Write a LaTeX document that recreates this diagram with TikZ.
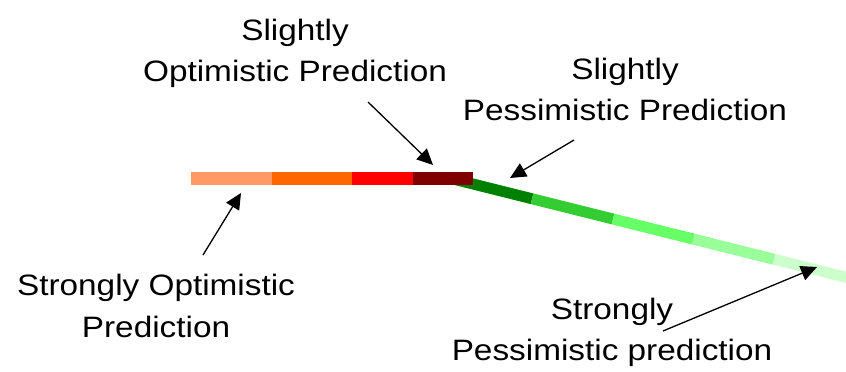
\documentclass[tikz,border=0pt]{standalone}
\usepackage{fontspec}
\setmainfont{Liberation Sans}[FakeStretch=1.13]
\usepackage{xcolor}
\usetikzlibrary{arrows.meta}

\definecolor{optA}{HTML}{FF9966}
\definecolor{optB}{HTML}{FF6600}
\definecolor{optC}{HTML}{FF0000}
\definecolor{optD}{HTML}{800000}
\definecolor{pesA}{HTML}{008000}
\definecolor{pesB}{HTML}{33CC33}
\definecolor{pesC}{HTML}{66FF66}
\definecolor{pesD}{HTML}{99FF99}
\definecolor{pesE}{HTML}{CCFFCC}

\begin{document}
\begin{tikzpicture}[x=1pt,y=-1pt,
  lbl/.style={align=center, anchor=base, inner sep=0pt, font={\fontsize{29.5pt}{41.5pt}\selectfont}},
  seg/.style={line width=11pt, line cap=butt},
  ptr/.style={-{Triangle[length=16pt,width=15pt]}, line width=1.3pt},
]
\useasboundingbox (0,0) rectangle (846,372);
% pessimistic side (slanted, under the bar)
\draw[seg, pesA] (451,178.5) -- (532,198.75);
\draw[seg, pesB] (532,198.75) -- (613,219);
\draw[seg, pesC] (613,219) -- (693.5,239.1);
\draw[seg, pesD] (693.5,239.1) -- (774,259.25);
\draw[seg, pesE] (774,259.25) -- (854.5,279.4);
% optimistic side (flat bar)
\fill[optA] (191,172) rectangle (272,185);
\fill[optB] (272,172) rectangle (352,185);
\fill[optC] (352,172) rectangle (413,185);
\fill[optD] (413,172) rectangle (473,185);
% labels (anchored on the last line's baseline)
\node[lbl] (wopt) at (295,81.7) {Slightly\\Optimistic Prediction};
\node[lbl] (wpes) at (625,120.5) {Slightly\\Pessimistic Prediction};
\node[lbl] (sopt) at (156,337) {Strongly Optimistic\\Prediction};
\node[lbl] (spes) at (612,360.5) {Strongly\\Pessimistic prediction};
% arrow ends
\coordinate (wopt-t) at (368,102);
\coordinate (wopt-h) at (433,165);
\coordinate (wpes-t) at (574,140);
\coordinate (wpes-h) at (510,178);
\coordinate (sopt-t) at (203,255);
\coordinate (sopt-h) at (241,193);
\coordinate (spes-t) at (663,331);
\coordinate (spes-h) at (817,267);
% pointers
\draw[ptr] (wopt-t) -- (wopt-h);
\draw[ptr] (wpes-t) -- (wpes-h);
\draw[ptr] (sopt-t) -- (sopt-h);
\draw[ptr] (spes-t) -- (spes-h);
\end{tikzpicture}
\end{document}
